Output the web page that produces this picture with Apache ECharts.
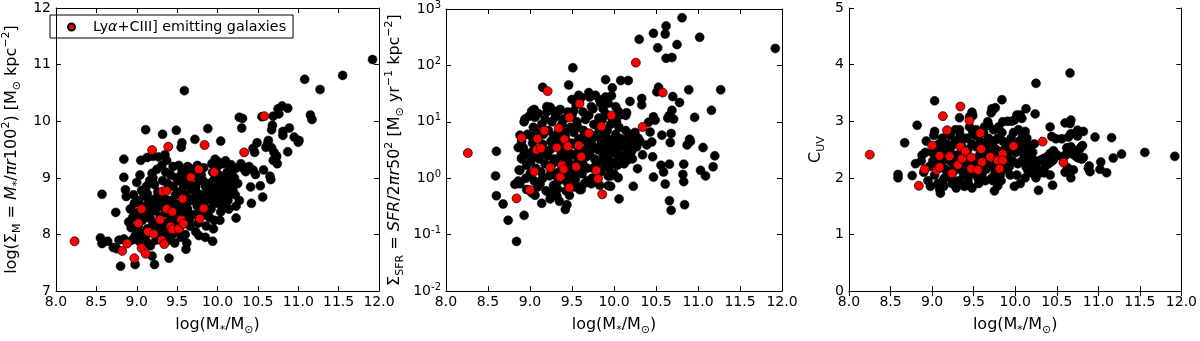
<!DOCTYPE html>
<html>
<head>
<meta charset="utf-8">
<script src="https://cdn.jsdelivr.net/npm/echarts@6/dist/echarts.min.js"></script>
<style>
html, body { margin: 0; padding: 0; background: #fff; }
#container { width: 1200px; height: 341px; }
</style>
</head>
<body>
<div id="container"></div>
<script>
// tick values shared by all panels
var massTicks = [8.0, 8.5, 9.0, 9.5, 10.0, 10.5, 11.0, 11.5, 12.0];

// panel 1: log(Sigma_M) vs log(M*)
var sigmaMField = [
[11.92,11.09],[11.55,10.81],[11.08,10.74],[11.27,10.56],[9.59,10.54],
[11.15,10.11],[11.17,10.03],[10.75,10.22],[10.8,10.27],[10.87,10.23],[10.76,10.13],[10.69,10.09],[10.55,10.08],[10.27,10.07],[10.31,10.05],
[10.3,9.88],[10.68,9.93],[10.67,9.85],[10.81,9.82],[10.81,9.75],[10.89,9.88],[10.95,9.72],[11.01,9.66],[11.0,9.63],[10.63,9.66],[10.62,9.6],
[10.6,9.54],[10.49,9.62],[10.67,9.53],[10.7,9.45],[10.73,9.37],[10.69,9.31],[10.74,9.25],[10.87,9.46],[10.44,9.52],[10.46,9.45],[10.04,9.65],
[9.97,9.33],[10.01,9.28],[10.07,9.25],[10.17,9.23],[10.23,9.17],[10.29,9.25],[10.33,9.15],[10.39,9.2],[10.44,9.14],
[9.11,9.85],[9.32,9.77],[9.49,9.84],[9.88,9.87],[9.56,9.62],[9.55,9.54],[9.72,9.68],[9.05,9.31],[9.13,9.36],[9.2,9.38],[9.27,9.37],[9.35,9.41],[9.37,9.31],[8.84,9.33],
[8.84,9.01],[8.86,8.79],[8.87,8.67],[8.57,8.71],[8.74,8.39],[8.55,7.94],[8.57,7.84],[8.64,7.88],[8.71,7.77],[8.75,7.75],[8.78,7.9],[8.84,7.92],
[8.8,7.44],[8.98,7.47],[9.19,7.62],[9.22,7.47],[9.4,7.58],[9.61,7.74],[9.94,7.88],[9.77,7.98],
[10.23,8.29],[10.42,8.55],[10.56,8.66],[10.41,8.84],[10.53,8.86],[10.65,9.03],[10.66,8.97],[10.35,9.11],[10.47,9.06],[10.57,9.14],[10.73,9.39],
[10.12,8.69],[10.11,8.48],[10.17,8.83]
];
var sigmaMCore = [
[8.92,8.45],[8.95,8.3],[8.97,8.55],[8.93,8.12],[8.98,7.98],[8.96,8.7],[8.9,8.22],[8.99,8.38],[8.94,7.9],
[9.02,8.6],[9.04,8.33],[9.01,8.08],[9.06,8.78],[9.08,8.5],[9.03,7.88],[9.07,8.25],[9.05,8.02],[9.09,8.68],[9.0,8.92],[9.04,9.05],[9.08,7.95],[9.02,8.15],
[9.11,8.4],[9.13,8.1],[9.15,8.6],[9.12,8.85],[9.17,8.28],[9.14,7.85],[9.18,8.5],[9.16,8.95],[9.19,8.15],[9.11,7.97],[9.13,8.72],[9.19,9.08],[9.15,8.35],[9.17,7.8],
[9.21,8.62],[9.23,8.42],[9.25,8.2],[9.22,8.88],[9.27,8.05],[9.24,7.9],[9.28,8.55],[9.26,8.75],[9.29,8.32],[9.2,9.0],[9.25,9.15],[9.23,8.12],[9.27,8.68],[9.29,7.95],
[9.31,8.5],[9.33,8.15],[9.35,8.62],[9.32,8.95],[9.37,8.38],[9.34,8.05],[9.38,8.9],[9.36,9.1],[9.39,8.22],[9.3,7.98],[9.33,8.7],[9.38,8.0],[9.35,8.45],[9.31,9.22],
[9.41,8.6],[9.43,8.3],[9.45,8.85],[9.42,9.05],[9.47,8.55],[9.44,8.0],[9.48,8.7],[9.46,8.2],[9.49,9.0],[9.4,7.9],[9.43,8.45],[9.48,8.35],[9.45,9.2],[9.41,8.12],[9.47,7.85],
[9.51,8.5],[9.53,8.75],[9.55,8.4],[9.52,8.95],[9.57,8.6],[9.54,8.15],[9.58,8.85],[9.56,9.1],[9.59,8.3],[9.5,8.05],[9.53,8.25],[9.58,9.0],[9.55,7.95],[9.52,9.22],[9.57,8.48],
[9.61,8.7],[9.63,8.45],[9.65,8.9],[9.62,8.55],[9.67,8.35],[9.64,9.05],[9.68,8.8],[9.66,8.15],[9.69,8.6],[9.6,8.0],[9.63,9.2],[9.68,9.15],[9.65,8.25],[9.62,7.85],
[9.71,8.65],[9.73,8.85],[9.75,8.5],[9.72,8.35],[9.77,8.95],[9.74,8.75],[9.78,8.6],[9.76,8.2],[9.79,8.4],[9.7,9.1],[9.73,8.05],[9.78,9.05],[9.75,9.22],
[9.81,8.7],[9.83,8.55],[9.85,8.85],[9.82,8.95],[9.87,8.65],[9.84,8.35],[9.88,8.9],[9.86,8.15],[9.89,8.75],[9.8,9.05],[9.83,9.18],[9.88,8.45],[9.85,7.95],
[9.91,8.8],[9.93,8.6],[9.95,8.95],[9.92,8.45],[9.97,8.7],[9.94,9.1],[9.98,8.85],[9.96,8.25],[9.99,8.55],[9.9,8.3],[9.93,9.25],[9.97,9.0],[9.95,8.1],
[10.01,8.75],[10.03,8.9],[10.05,8.6],[10.02,9.05],[10.07,8.8],[10.04,8.4],[10.08,9.0],[10.06,8.5],[10.09,8.7],[10.0,9.2],[10.03,8.25],[10.1,9.3],
[10.11,8.85],[10.13,8.6],[10.15,8.95],[10.12,9.1],[10.17,8.75],[10.14,8.45],[10.18,9.05],[10.16,9.2],[10.19,8.8],
[10.22,8.7],[10.25,8.9],[10.21,9.0],[10.27,8.6],[10.23,8.5]
];
var sigmaMEmitters = [
[8.23,7.88],[8.82,7.71],[8.88,7.84],[8.97,7.58],[9.06,7.76],[9.11,7.66],
[9.06,8.45],[9.02,8.2],[9.14,8.05],[9.21,8.01],[9.29,8.26],[9.32,8.76],[9.37,8.77],[9.37,8.45],[9.42,8.14],[9.44,8.09],[9.44,8.4],
[9.52,8.1],[9.55,8.26],[9.58,8.19],[9.57,8.63],[9.67,9.01],[9.77,9.15],[9.78,8.28],[9.83,8.46],[9.96,9.1],[9.31,7.9],[9.34,7.83],
[9.19,9.49],[9.39,9.55],[9.84,9.58],[10.33,9.45],[10.58,10.09]
];

// panel 2: Sigma_SFR vs log(M*)
var sfrField = [
[11.92,200],[10.81,700],[11.02,316],[10.62,500],[10.47,370],[10.61,360],[10.75,234],[10.52,205],[10.3,290],[10.62,134],[10.69,138],
[9.51,91],[9.15,41],[11.27,37],[10.89,37],[10.53,41],[10.51,34],[10.7,28],[10.78,22],[10.33,26],[10.33,20],[10.19,23],[10.17,54],
[10.08,54],[9.9,56],[9.98,40],[11.16,16],[10.96,12],[10.66,13],[10.64,11.7],[10.71,11.2],[10.69,16],[10.47,12.3],[10.49,10.7],[10.41,9.8],
[10.14,13],[10.15,14.5],[10.9,4.9],[10.91,4.5],[10.87,3.9],[11.06,3.5],[11.2,2.5],[11.18,1.6],[11.03,1.38],[11.09,1.1],[10.82,1.17],
[10.83,0.87],[10.83,1.78],[10.66,1.78],[10.61,0.79],[10.66,0.4],[10.68,0.27],[10.84,0.34],[10.56,1.7],[10.59,1.29],[10.47,1.05],
[10.46,2.4],[10.45,4.4],[10.57,5.8],[10.67,4.3],[10.68,6.2],[10.43,6.6],[10.39,3.9],[10.31,4.5],[10.29,5.1],[10.23,0.72],[10.28,1.48],
[10.34,2.6],[10.06,0.43],[10.05,1.02],[9.96,1.1],[9.93,0.74],[9.96,0.72],
[8.6,3.0],[8.59,1.1],[8.6,0.49],[8.68,0.35],[8.74,0.18],[8.84,0.076],[8.93,0.22],[8.86,0.89],[8.82,0.78],[8.96,0.63],[9.02,0.55],
[9.06,0.5],[9.14,0.36],[9.24,0.43],[9.35,0.39],[9.42,0.28],[9.44,0.34],[9.28,0.55],[9.32,0.49],[9.59,0.63],[9.61,0.63],[9.65,0.81],
[8.88,1.38],[8.9,2.3],[8.93,3.0],[8.86,3.5],[8.88,5.8],[8.94,11.2],[8.99,12.6],[9.02,15.5],[9.05,16.6],[9.06,13.5],[9.2,18.6],
[9.24,18.2],[9.28,15.5],[9.32,14.5],[9.36,16.6],[9.46,45],[9.5,25],[9.55,24.5],[9.58,29.5],[9.61,27],[9.7,33],[9.71,27.5],[9.78,29.5],
[9.83,24.5],[9.86,21.4],[9.93,21.4],[9.9,27.5],[9.84,21.4],[9.87,17],[9.73,18.6],[9.97,29],[10.02,18.6],[10.05,15.5],[10.07,13.2],
[9.9,14],[9.82,11.7],[9.52,15.5],[9.4,11.2]
];
var sfrCore = [
[8.87,1.4],[8.9,2.2],[8.92,3.5],[8.95,1.0],[8.97,6],[8.88,0.8],[8.93,10],[8.98,2.6],[8.9,4.5],[8.96,1.7],
[9.01,2.0],[9.03,3.0],[9.05,0.9],[9.02,5.5],[9.07,1.5],[9.04,8],[9.08,2.5],[9.06,12],[9.09,0.7],[9.0,1.2],[9.03,4.2],[9.08,6.5],
[9.11,2.2],[9.13,1.3],[9.15,4.0],[9.12,0.8],[9.17,3.0],[9.14,9],[9.18,1.8],[9.16,6],[9.19,0.6],[9.1,14],[9.13,2.7],[9.18,11],[9.15,1.0],
[9.21,2.5],[9.23,1.1],[9.25,4.5],[9.22,7],[9.27,1.8],[9.24,3.2],[9.28,0.75],[9.26,10],[9.29,2.2],[9.2,15],[9.23,0.55],[9.28,5.5],[9.25,1.4],[9.22,18],
[9.31,2.0],[9.33,3.8],[9.35,1.3],[9.32,6],[9.37,2.6],[9.34,0.9],[9.38,9],[9.36,4.5],[9.39,1.6],[9.3,12],[9.33,0.65],[9.38,3.1],[9.35,16],[9.31,1.1],[9.37,7],
[9.41,2.3],[9.43,3.5],[9.45,1.2],[9.42,5.5],[9.47,2.8],[9.44,0.85],[9.48,8],[9.46,1.9],[9.49,4.2],[9.4,11],[9.43,0.6],[9.48,1.4],[9.45,15],[9.41,6.5],[9.47,0.5],
[9.51,2.6],[9.53,4.0],[9.55,1.3],[9.52,6.5],[9.57,2.0],[9.54,0.95],[9.58,3.2],[9.56,10],[9.59,1.6],[9.5,13],[9.53,0.7],[9.58,5],[9.55,20],[9.51,1.1],[9.57,8],
[9.61,3.0],[9.63,1.8],[9.65,4.8],[9.62,1.2],[9.67,2.4],[9.64,7],[9.68,0.9],[9.66,11],[9.69,3.6],[9.6,0.7],[9.63,15],[9.68,1.5],[9.65,6],
[9.71,2.8],[9.73,4.2],[9.75,1.5],[9.72,6],[9.77,2.2],[9.74,1.0],[9.78,3.5],[9.76,9],[9.79,1.8],[9.7,13],[9.73,0.8],[9.78,5.5],[9.75,17],
[9.81,3.2],[9.83,2.0],[9.85,4.5],[9.82,6.5],[9.87,2.6],[9.84,1.3],[9.88,3.8],[9.86,11],[9.89,1.7],[9.8,8.5],[9.83,0.75],[9.88,5.5],
[9.91,3.5],[9.93,2.2],[9.95,4.8],[9.92,7],[9.97,2.8],[9.94,1.5],[9.98,3.9],[9.96,9],[9.99,1.9],[9.9,5.5],[9.93,1.1],[9.97,12],
[10.01,3.2],[10.03,4.5],[10.05,2.5],[10.02,6],[10.07,3.5],[10.04,1.7],[10.08,5],[10.06,8],[10.09,2.2],[10.0,1.2],[10.03,10],
[10.11,3.8],[10.13,2.6],[10.15,5],[10.12,1.8],[10.17,3.2],[10.14,7],[10.18,4.2],[10.16,2.1],[10.19,6],
[10.21,3.0],[10.24,4.6],[10.22,2.2],[10.27,3.6],[10.25,6.5]
];
var sfrEmitters = [
[8.26,2.8],[8.84,0.44],[8.9,5.2],[9.0,0.62],[9.05,1.32],[9.08,3.2],[9.09,5.0],[9.13,3.4],[9.17,7.0],[9.21,35],[9.24,1.55],
[9.32,3.5],[9.34,7.7],[9.36,1.05],[9.38,1.7],[9.4,1.45],[9.41,4.9],[9.45,3.7],[9.47,0.68],[9.47,12],[9.55,1.6],[9.58,3.8],
[9.59,21],[9.61,2.4],[9.7,6.3],[9.79,1.38],[9.81,0.98],[9.85,8.3],[9.86,0.52],[9.97,13],[10.26,112],[10.34,8.1],[10.58,33]
];

// panel 3: C_UV vs log(M*)
var cuvField = [
[10.66,3.85],[10.25,3.67],[10.67,3.02],[10.66,2.96],[10.6,2.97],[9.84,3.38],[9.03,3.36],[9.33,3.06],[9.48,3.16],[9.49,3.1],[9.45,3.08],
[9.72,3.22],[9.74,3.21],[9.76,3.24],[9.71,3.15],[9.68,2.93],[9.67,2.99],[10.13,3.22],[10.24,3.13],[10.02,3.11],[10.06,3.11],[9.99,3.02],
[10.08,3.05],[9.85,2.99],[9.91,3.0],[9.96,3.0],[8.82,2.93],[8.67,2.62],[8.59,2.06],[8.59,2.0],[8.76,2.04],[8.8,2.25],[9.1,1.73],
[9.79,1.86],[9.75,1.77],[10.28,1.78],[10.45,1.87],[10.42,2.05],[10.7,2.14],[10.67,2.0],[10.6,2.1],[10.63,2.18],[10.88,2.17],[10.9,2.11],
[10.89,2.21],[11.03,2.28],[11.02,2.15],[11.1,2.09],[11.18,2.35],[11.28,2.42],[11.56,2.45],[11.92,2.38],[11.16,2.71],[10.96,2.72],
[10.75,2.84],[10.82,2.82],[10.64,2.72],[10.67,2.78],[10.75,2.74],[10.56,2.69],[10.42,2.9],[10.44,2.73],[10.49,2.69],[10.79,2.54],
[10.81,2.57],[10.77,2.5],[10.62,2.53],[10.67,2.55],[10.69,2.42],[10.73,2.38],[10.76,2.35],[10.82,2.36],[10.8,2.33],[10.62,2.43],
[10.6,2.39],[10.56,2.37],[10.5,2.41],[10.46,2.48],[10.48,2.42],[10.42,2.43],[10.38,2.37],[10.34,2.34],[10.3,2.31],[10.26,2.28],
[10.36,2.2],[10.4,2.25],[10.44,2.29],[10.46,2.32],[10.2,2.23],[10.22,2.17],[10.18,2.14],[10.15,2.14],[10.18,2.31],[10.19,2.42],
[10.17,2.54],[10.13,2.62],[10.15,2.54],[10.12,2.82],[10.35,2.09],[10.3,2.09],[10.23,2.06],[10.25,2.0]
];
var cuvCore = [
[8.87,2.3],[8.9,2.1],[8.92,2.45],[8.95,1.95],[8.97,2.2],[8.88,2.4],[8.93,2.65],[8.98,1.85],
[9.01,2.3],[9.03,2.05],[9.05,2.5],[9.02,2.75],[9.07,1.9],[9.04,2.2],[9.08,2.6],[9.06,2.35],[9.09,1.8],[9.0,2.45],[9.03,2.82],
[9.11,2.25],[9.13,2.5],[9.15,2.0],[9.12,2.7],[9.17,2.35],[9.14,1.85],[9.18,2.6],[9.16,2.15],[9.19,2.8],[9.1,2.4],[9.13,1.95],[9.18,2.45],
[9.21,2.3],[9.23,2.55],[9.25,2.1],[9.22,2.75],[9.27,2.4],[9.24,1.9],[9.28,2.65],[9.26,2.2],[9.29,1.82],[9.2,2.5],[9.23,2.0],[9.28,2.85],[9.25,2.35],
[9.31,2.4],[9.33,2.15],[9.35,2.6],[9.32,1.95],[9.37,2.3],[9.34,2.75],[9.38,2.05],[9.36,2.5],[9.39,1.85],[9.3,2.65],[9.33,2.85],[9.38,2.2],[9.35,2.45],
[9.41,2.25],[9.43,2.5],[9.45,2.05],[9.42,2.7],[9.47,2.35],[9.44,1.88],[9.48,2.6],[9.46,2.15],[9.49,2.8],[9.4,2.4],[9.43,1.95],[9.48,1.82],[9.45,2.9],
[9.51,2.3],[9.53,2.55],[9.55,2.0],[9.52,2.75],[9.57,2.4],[9.54,2.2],[9.58,2.65],[9.56,1.9],[9.59,2.45],[9.5,2.1],[9.53,2.85],[9.58,2.05],
[9.61,2.35],[9.63,2.6],[9.65,2.15],[9.62,2.8],[9.67,2.45],[9.64,1.95],[9.68,2.7],[9.66,2.25],[9.69,2.55],[9.6,2.05],[9.63,2.9],
[9.71,2.4],[9.73,2.2],[9.75,2.65],[9.72,2.0],[9.77,2.5],[9.74,2.85],[9.78,2.3],[9.76,2.1],[9.79,2.7],[9.7,2.55],[9.73,1.95],
[9.81,2.45],[9.83,2.25],[9.85,2.65],[9.82,2.05],[9.87,2.5],[9.84,2.8],[9.88,2.35],[9.86,2.15],[9.89,2.6],[9.8,2.9],[9.83,1.95],
[9.91,2.4],[9.93,2.2],[9.95,2.7],[9.92,2.5],[9.97,2.3],[9.94,2.05],[9.98,2.8],[9.96,2.6],[9.99,1.85],[9.9,2.15],
[10.01,2.45],[10.03,2.25],[10.05,2.65],[10.02,2.05],[10.07,2.5],[10.04,2.85],[10.08,2.3],[10.06,1.9],[10.09,2.75],[10.0,2.6],
[10.11,2.4],[10.13,2.2],[10.15,2.55],[10.12,2.0],[10.17,2.35],[10.14,2.7],[10.18,2.1],
[10.21,2.45],[10.24,2.3],[10.27,2.15],[10.23,2.6]
];
var cuvEmitters = [
[8.25,2.41],[8.84,1.86],[8.91,2.15],[9.0,2.57],[9.06,2.14],[9.09,2.39],[9.09,2.19],[9.13,3.09],[9.18,2.84],[9.21,2.38],[9.24,2.08],
[9.31,2.23],[9.34,3.26],[9.34,2.55],[9.36,2.34],[9.4,2.47],[9.45,3.01],[9.47,2.36],[9.47,2.16],[9.55,2.14],[9.58,2.79],[9.59,2.51],
[9.6,2.28],[9.7,2.37],[9.79,2.31],[9.81,2.16],[9.85,2.42],[9.85,2.31],[9.98,2.56],[10.33,2.64],[10.58,2.27]
];

var legendName = 'Lyα+CIII] emitting galaxies';
var FONT = 'DejaVu Sans';

var rich = {
  sup: { fontFamily: FONT, fontSize: 11, verticalAlign: 'top', lineHeight: 22, color: '#000' },
  sub: { fontFamily: FONT, fontSize: 11, verticalAlign: 'bottom', lineHeight: 22, color: '#000' },
  it: { fontFamily: FONT, fontSize: 16, fontStyle: 'italic', lineHeight: 22, color: '#000' }
};
var tickRich = {
  sup: { fontFamily: FONT, fontSize: 10, verticalAlign: 'top', lineHeight: 18, color: '#000' }
};

var lineStyle = { color: '#000', width: 1 };

function bottomX(gi) {
  return {
    gridIndex: gi, type: 'value', min: 8, max: 12, interval: 0.5,
    name: 'log(M{sub|*}/M{sub|⊙})', nameLocation: 'middle', nameGap: 22,
    nameTextStyle: { fontFamily: FONT, fontSize: 16, color: '#000', lineHeight: 22, rich: rich },
    axisLine: { show: true, lineStyle: lineStyle },
    axisTick: { show: true, inside: true, length: 5, lineStyle: lineStyle },
    axisLabel: { fontFamily: FONT, fontSize: 14, color: '#000', margin: 4,
      formatter: function (v) { return v.toFixed(1); } },
    splitLine: { show: false }
  };
}
function topX(gi) {
  return {
    gridIndex: gi, type: 'value', min: 8, max: 12, interval: 0.5, position: 'top',
    axisLine: { show: true, lineStyle: lineStyle },
    axisTick: { show: true, inside: true, length: 5, lineStyle: lineStyle },
    axisLabel: { show: false }, splitLine: { show: false }
  };
}
function leftY(gi, extra) {
  var a = {
    gridIndex: gi, type: 'value', nameLocation: 'middle', nameRotate: 90,
    axisLine: { show: true, lineStyle: lineStyle },
    axisTick: { show: true, inside: true, length: 5, lineStyle: lineStyle },
    axisLabel: { fontFamily: FONT, fontSize: 14, color: '#000', margin: 5 },
    nameTextStyle: { fontFamily: FONT, fontSize: 16, color: '#000', lineHeight: 22, rich: rich },
    splitLine: { show: false }
  };
  for (var k in extra) a[k] = extra[k];
  return a;
}
function rightY(gi, extra) {
  var a = {
    gridIndex: gi, type: 'value', position: 'right',
    axisLine: { show: true, lineStyle: lineStyle },
    axisTick: { show: true, inside: true, length: 5, lineStyle: lineStyle },
    axisLabel: { show: false }, splitLine: { show: false }
  };
  for (var k in extra) a[k] = extra[k];
  return a;
}

var logExtra = { type: 'log', logBase: 10, min: 0.01, max: 1000 };

function blackSeries(idx, data) {
  return {
    type: 'scatter', xAxisIndex: idx * 2, yAxisIndex: idx * 2, data: data,
    symbol: 'circle', symbolSize: 9, silent: true, z: 2,
    itemStyle: { color: '#000', borderColor: '#000', borderWidth: 0.5, opacity: 1 }
  };
}
function redSeries(idx, data) {
  return {
    name: legendName, type: 'scatter', xAxisIndex: idx * 2, yAxisIndex: idx * 2, data: data,
    symbol: 'circle', symbolSize: 9, silent: true, z: 3,
    itemStyle: { color: '#ff0000', borderColor: '#000', borderWidth: 0.7, opacity: 1 }
  };
}

var myChart = echarts.init(document.getElementById('container'), null, { renderer: 'canvas' });
var option = {
  animation: false,
  backgroundColor: '#fff',
  grid: [
    { left: 45, top: 8, width: 334, height: 295 },
    { left: 446, top: 8, width: 336, height: 295 },
    { left: 849, top: 8, width: 337, height: 295 }
  ],
  legend: {
    data: [legendName],
    left: 50, top: 15,
    orient: 'vertical',
    borderColor: '#000', borderWidth: 1, borderRadius: 0,
    padding: [5, 7, 4, 17],
    itemWidth: 7, itemHeight: 7,
    selectedMode: false,
    formatter: function () { return 'Ly{a|α}+CIII] emitting galaxies'; },
    textStyle: {
      fontFamily: FONT, fontSize: 14.3, color: '#000', padding: [0, 0, 0, 13],
      rich: { a: { fontFamily: FONT, fontSize: 14.3, fontStyle: 'italic', color: '#000' } }
    }
  },
  xAxis: [bottomX(0), topX(0), bottomX(1), topX(1), bottomX(2), topX(2)],
  yAxis: [
    leftY(0, { min: 7, max: 12, interval: 1, nameGap: 33,
      name: 'log(Σ{sub|M} = {it|M}{sub|*}/{it|πr}100{sup|2}) [M{sub|⊙} kpc{sup|−2}]' }),
    rightY(0, { min: 7, max: 12, interval: 1 }),
    leftY(1, { type: 'log', logBase: 10, min: 0.01, max: 1000, nameGap: 40,
      name: 'Σ{sub|SFR} = {it|SFR}/2{it|πr}50{sup|2} [M{sub|⊙} yr{sup|−1} kpc{sup|−2}]',
      axisLabel: { fontFamily: FONT, fontSize: 14, color: '#000', margin: 5, rich: tickRich,
        formatter: function (v) {
          var e = Math.round(Math.log(v) / Math.LN10);
          return '10{sup|' + (e < 0 ? '-' + (-e) : e) + '}';
        } } }),
    rightY(1, logExtra),
    leftY(2, { min: 0, max: 5, interval: 1, nameGap: 22, name: 'C{sub|UV}' }),
    rightY(2, { min: 0, max: 5, interval: 1 })
  ],
  series: [
    blackSeries(0, sigmaMField.concat(sigmaMCore)),
    redSeries(0, sigmaMEmitters),
    blackSeries(1, sfrField.concat(sfrCore)),
    redSeries(1, sfrEmitters),
    blackSeries(2, cuvField.concat(cuvCore)),
    redSeries(2, cuvEmitters)
  ]
};
myChart.setOption(option);
</script>
</body>
</html>
